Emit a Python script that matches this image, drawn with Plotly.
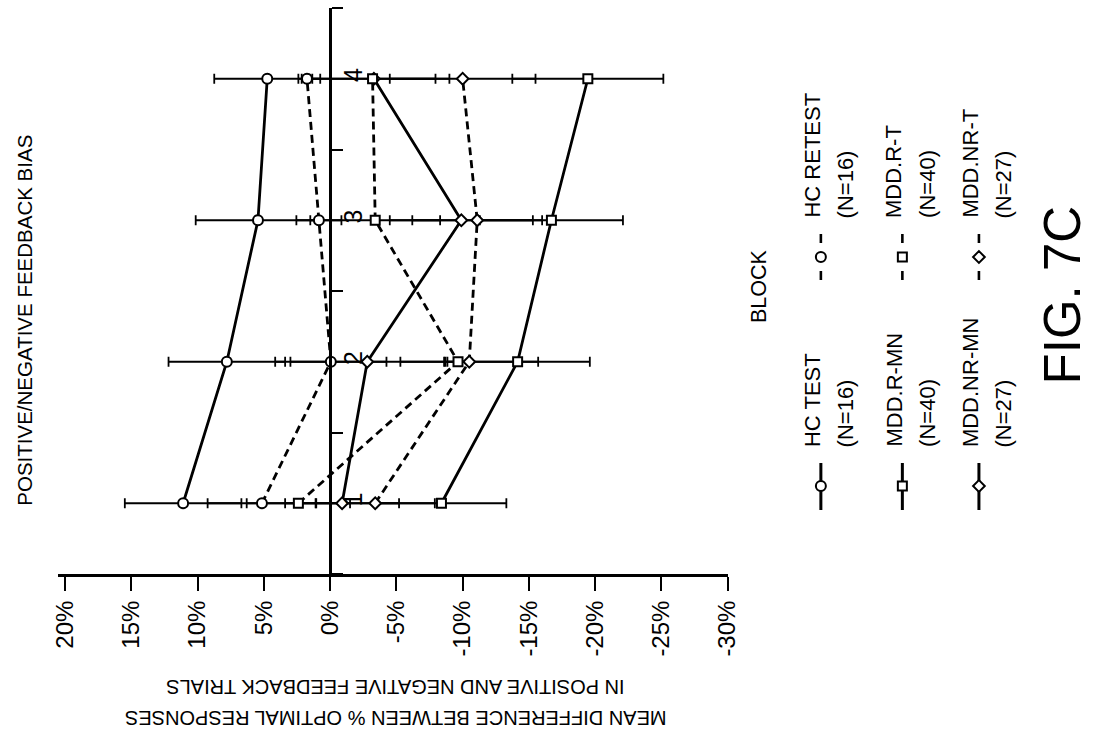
import plotly.graph_objects as go

# ---------------- data ----------------
blocks = [1, 2, 3, 4]
block_labels = ["1", "2", "3", "4"]
half_blocks = [0.5, 1.5, 2.5, 3.5, 4.5]
pct_ticks = [20, 15, 10, 5, 0, -5, -10, -15, -20, -25, -30]
pct_labels = ["20%", "15%", "10%", "5%", "0%", "-5%", "-10%", "-15%", "-20%", "-25%", "-30%"]

hc_test = [11.1, 7.8, 5.45, 4.75]
hc_test_err = [4.4, 4.4, 4.7, 4.0]
hc_retest = [5.15, -0.05, 0.85, 1.75]
hc_retest_err = [4.1, 4.2, 1.7, 0.4]
mdd_r_mn = [-8.4, -14.15, -16.7, -19.45]
mdd_r_mn_err = [4.9, 5.45, 5.4, 5.7]
mdd_r_t = [2.4, -9.65, -3.4, -3.2]
mdd_r_t_err = [3.9, 0.8, 4.9, 4.75]
mdd_nr_mn = [-0.9, -2.8, -9.9, -3.3]
mdd_nr_mn_err = [4.3, 5.8, 5.4, 5.7]
mdd_nr_t = [-3.4, -10.5, -11.1, -10.0]
mdd_nr_t_err = [4.5, 5.2, 4.9, 5.5]

legend_line1 = ["HC TEST", "HC RETEST", "MDD.R-MN", "MDD.R-T", "MDD.NR-MN", "MDD.NR-T"]
legend_line2 = ["(N=16)", "(N=16)", "(N=40)", "(N=40)", "(N=27)", "(N=27)"]

title_text = "POSITIVE/NEGATIVE FEEDBACK BIAS"
value_axis_title_1 = "MEAN DIFFERENCE BETWEEN % OPTIMAL RESPONSES"
value_axis_title_2 = "IN POSITIVE AND NEGATIVE FEEDBACK TRIALS"
block_axis_title = "BLOCK"
fig_label = "FIG. 7C"

# ---------------- styling ----------------
W, H = 1096, 743
L, R, T, B = 52, 734, 8, 574          # plot area in page pixels
FONT = "Liberation Sans, Arial, sans-serif"
BLK = "black"

series = [
    # values, errors, symbol, solid line?, marker size, legend slot
    (hc_test, hc_test_err, "circle", True, 10, 0),
    (hc_retest, hc_retest_err, "circle", False, 10, 1),
    (mdd_nr_mn, mdd_nr_mn_err, "diamond", True, 9, 4),
    (mdd_nr_t, mdd_nr_t_err, "diamond", False, 9, 5),
    (mdd_r_mn, mdd_r_mn_err, "square", True, 9, 2),
    (mdd_r_t, mdd_r_t_err, "square", False, 9, 3),
]

fig = go.Figure()

# error bars (bottom layer)
for vals, errs, sym, solid, size, li in series:
    fig.add_trace(go.Scatter(
        x=vals, y=blocks, mode="markers",
        marker=dict(size=1, color="rgba(0,0,0,0)"),
        error_x=dict(type="data", array=errs, visible=True, color=BLK,
                     thickness=1.8, width=5),
        showlegend=False, hoverinfo="skip", xaxis="x", yaxis="y"))

# connecting lines
for vals, errs, sym, solid, size, li in series:
    fig.add_trace(go.Scatter(
        x=vals, y=blocks, mode="lines",
        line=dict(color=BLK, width=2.8, dash="solid" if solid else "8px,5px"),
        showlegend=False, hoverinfo="skip", xaxis="x", yaxis="y"))

# open markers on top
for vals, errs, sym, solid, size, li in series:
    fig.add_trace(go.Scatter(
        x=vals, y=blocks, mode="markers",
        marker=dict(symbol=sym, size=size, color="white",
                    line=dict(color=BLK, width=2)),
        showlegend=False, hoverinfo="skip", xaxis="x", yaxis="y"))

# ---------------- rotated legend drawn on a page-pixel overlay axis ----------------
leg_x = {0: 829, 2: 912, 4: 990, 1: 829, 3: 912, 5: 990}
annotations = []
for vals, errs, sym, solid, size, li in series:
    cx = leg_x[li]
    if solid:
        y0, y1, ym, ytxt = 463, 510, 486, 449
        lx = [cx, cx]
        ly = [y0, y1]
    else:
        y0, y1, ym, ytxt = 234, 280, 257, 220
        lx = [cx, cx, None, cx, cx]
        ly = [y0, y0 + 9, None, y1 - 9, y1]
    fig.add_trace(go.Scatter(x=lx, y=ly, mode="lines",
                             line=dict(color=BLK, width=3 if solid else 2.6),
                             showlegend=False, hoverinfo="skip",
                             xaxis="x2", yaxis="y2"))
    fig.add_trace(go.Scatter(x=[cx], y=[ym], mode="markers",
                             marker=dict(symbol=sym, size=size, color="white",
                                         line=dict(color=BLK, width=2)),
                             showlegend=False, hoverinfo="skip",
                             xaxis="x2", yaxis="y2"))
    for dx, txt in ((-9, legend_line1[li]), (25, legend_line2[li])):
        annotations.append(dict(x=cx + dx, y=ytxt, xref="x2", yref="y2",
                                text=txt, showarrow=False, textangle=-90,
                                xanchor="center", yanchor="bottom",
                                font=dict(family=FONT, size=22, color=BLK)))

annotations += [
    dict(x=17, y=320, xref="x2", yref="y2", text=title_text, showarrow=False,
         textangle=-90, xanchor="center", yanchor="middle",
         font=dict(family=FONT, size=20.5, color=BLK)),
    dict(x=396, y=687, xref="x2", yref="y2", text=value_axis_title_2, showarrow=False,
         textangle=180, xanchor="center", yanchor="middle",
         font=dict(family=FONT, size=20, color=BLK)),
    dict(x=396, y=718, xref="x2", yref="y2", text=value_axis_title_1, showarrow=False,
         textangle=180, xanchor="center", yanchor="middle",
         font=dict(family=FONT, size=20, color=BLK)),
    dict(x=766, y=286, xref="x2", yref="y2", text=block_axis_title, showarrow=False,
         textangle=-90, xanchor="center", yanchor="middle",
         font=dict(family=FONT, size=21.5, color=BLK)),
    dict(x=1075, y=295, xref="x2", yref="y2", text=fig_label, showarrow=False,
         textangle=-90, xanchor="center", yanchor="middle",
         font=dict(family=FONT, size=51, color=BLK)),
]

zero_px = L + (20.54 - 0) / (20.54 + 30) * (R - L)

fig.update_layout(
    width=W, height=H, autosize=False,
    margin=dict(l=0, r=0, t=0, b=0),
    paper_bgcolor="white", plot_bgcolor="rgba(0,0,0,0)",
    showlegend=False,
    font=dict(family=FONT, color=BLK),
    xaxis=dict(domain=[L / W, R / W], range=[20.54, -30], anchor="y",
               tickmode="array", tickvals=pct_ticks, ticktext=pct_labels,
               tickangle=-90, ticks="outside", ticklen=14, tickwidth=2,
               tickcolor=BLK, showline=True, linewidth=3, linecolor=BLK,
               showgrid=False, zeroline=False,
               tickfont=dict(family=FONT, size=24, color=BLK)),
    yaxis=dict(domain=[(H - B) / H, (H - T) / H], range=[0.5, 4.5],
               anchor="free", position=zero_px / W, side="right",
               tickmode="array", tickvals=blocks, ticktext=block_labels,
               tickangle=-90, ticks="outside", ticklen=0, tickwidth=0,
               showline=True, linewidth=3, linecolor=BLK,
               showgrid=False, zeroline=False,
               minor=dict(tickmode="array", tickvals=half_blocks, ticks="outside",
                          ticklen=11, tickwidth=2, tickcolor=BLK, showgrid=False),
               tickfont=dict(family=FONT, size=25, color=BLK)),
    xaxis2=dict(domain=[0, 1], range=[0, W], anchor="y2", visible=False,
                fixedrange=True),
    yaxis2=dict(domain=[0, 1], range=[H, 0], anchor="x2", visible=False,
                fixedrange=True),
    annotations=annotations,
)

fig.write_html("out.html")
